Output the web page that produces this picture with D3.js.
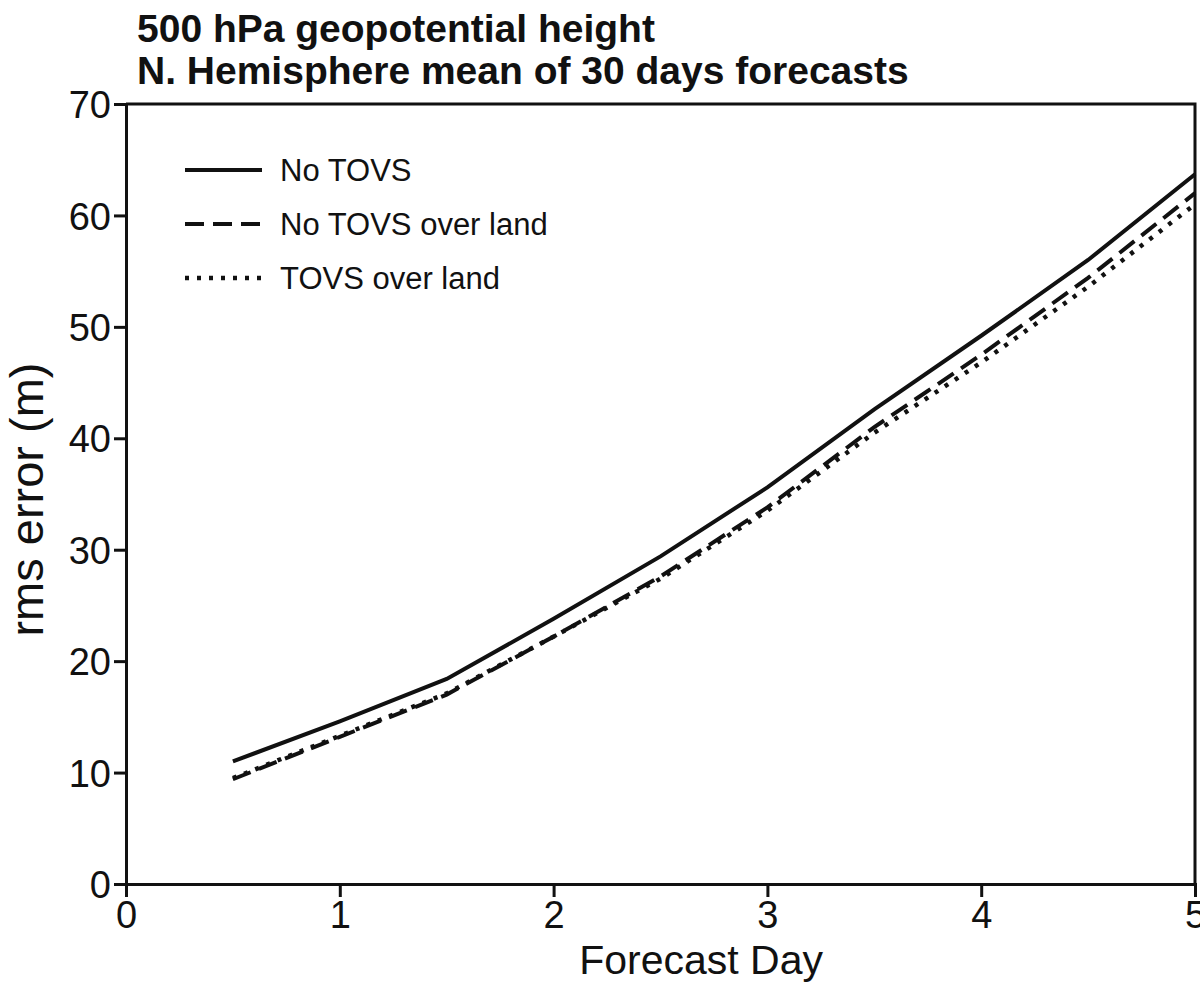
<!DOCTYPE html>
<html>
<head>
<meta charset="utf-8">
<script src="https://cdn.jsdelivr.net/npm/d3@7"></script>
<style>
  body { margin: 0; background: #fff; }
  text { font-family: "Liberation Sans", Arial, Helvetica, sans-serif; fill: #111; }
</style>
</head>
<body>
<div id="chart"></div>
<script>

// data (forecast day vs rms error in m)
var days = [0.5, 1, 1.5, 2, 2.5, 3, 3.5, 4, 4.5, 5];
var noTovs = [11.0, 14.6, 18.4, 23.8, 29.4, 35.6, 42.6, 49.2, 56.0, 63.7];
var noTovsLand = [9.4, 13.2, 17.0, 22.2, 27.6, 33.8, 41.0, 47.5, 54.4, 62.0];
var tovsLand = [9.5, 13.3, 17.1, 22.2, 27.4, 33.5, 40.5, 46.8, 53.6, 61.0];
var seriesNames = ["No TOVS", "No TOVS over land", "TOVS over land"];
var xTicks = [0, 1, 2, 3, 4, 5];
var yTicks = [0, 10, 20, 30, 40, 50, 60, 70];
var titleLines = ["500 hPa geopotential height", "N. Hemisphere mean of 30 days forecasts"];

var dashes = [null, "19,9", "4,8"];

// set the dimensions and margins of the graph
var margin = {top: 104, right: 5, bottom: 99, left: 126},
    width = 1200 - margin.left - margin.right,
    height = 983 - margin.top - margin.bottom;

var svg = d3.select("#chart")
  .append("svg")
    .attr("width", 1200)
    .attr("height", 983)
  .append("g")
    .attr("transform", "translate(" + margin.left + "," + margin.top + ")");

var x = d3.scaleLinear()
  .domain([0, 5])
  .range([0, width]);

var y = d3.scaleLinear()
  .domain([0, 70])
  .range([height, 0]);

// frame: top and right sides
svg.append("path")
  .attr("d", "M0,0H" + width + "V" + height)
  .attr("fill", "none")
  .attr("stroke", "#111")
  .attr("stroke-width", 3);

// X axis
var xAxis = svg.append("g")
  .attr("transform", "translate(0," + height + ")")
  .call(d3.axisBottom(x).tickValues(xTicks).tickSize(13).tickPadding(4).tickFormat(d3.format("d")));

// Y axis
var yAxis = svg.append("g")
  .call(d3.axisLeft(y).tickValues(yTicks).tickSize(12).tickPadding(3).tickFormat(d3.format("d")));

[xAxis, yAxis].forEach(function(a) {
  a.select(".domain").attr("stroke", "#111").attr("stroke-width", 3);
  a.selectAll(".tick line").attr("stroke", "#111").attr("stroke-width", 3);
  a.selectAll(".tick text")
    .style("font-family", "'Liberation Sans', Arial, sans-serif")
    .style("font-size", "38px")
    .attr("fill", "#111");
});
yAxis.selectAll(".tick text").attr("dy", "0.36em");

// axis titles
svg.append("text")
  .attr("x", x(2.69))
  .attr("y", height + 90)
  .attr("text-anchor", "middle")
  .style("font-size", "41px")
  .text("Forecast Day");

svg.append("text")
  .attr("transform", "translate(-83," + y(34.5) + ") rotate(-90)")
  .attr("text-anchor", "middle")
  .style("font-size", "47px")
  .text("rms error (m)");

// title
svg.selectAll(".title")
  .data(titleLines)
  .enter()
  .append("text")
    .attr("x", 11)
    .attr("y", function(d, i) { return -62 + i * 42; })
    .style("font-size", "39px")
    .style("font-weight", "bold")
    .text(function(d) { return d; });

// Lines
var series = [noTovs, noTovsLand, tovsLand];
var line = d3.line()
  .x(function(d) { return x(d[0]); })
  .y(function(d) { return y(d[1]); });

series.forEach(function(vals, i) {
  svg.append("path")
    .datum(days.map(function(d, j) { return [d, vals[j]]; }))
    .attr("fill", "none")
    .attr("stroke", "#111")
    .attr("stroke-width", i == 2 ? 4.5 : 4)
    .attr("stroke-dasharray", dashes[i])
    .attr("d", line);
});

// Legend
var legend = svg.selectAll(".legend")
  .data(seriesNames)
  .enter()
  .append("g")
    .attr("transform", function(d, i) { return "translate(59," + (66 + i * 54) + ")"; });

legend.append("line")
  .attr("x1", 0)
  .attr("x2", 77)
  .attr("stroke", "#111")
  .attr("stroke-width", function(d, i) { return i == 2 ? 4.5 : 4; })
  .attr("stroke-dasharray", function(d, i) { return dashes[i]; });

legend.append("text")
  .attr("x", 95)
  .attr("dy", "0.36em")
  .style("font-size", "31px")
  .text(function(d) { return d; });

</script>
</body>
</html>
